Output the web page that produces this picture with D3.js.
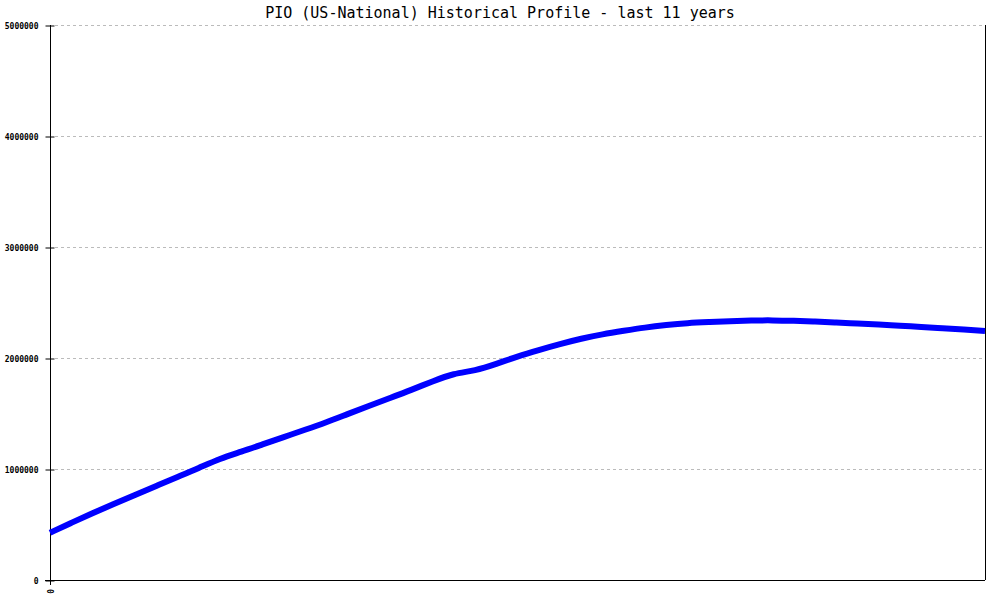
<!DOCTYPE html>
<html>
<head>
<meta charset="utf-8">
<script src="https://cdn.jsdelivr.net/npm/d3@7"></script>
<style>
  body { margin: 0; background: #fff; }
  text { font-family: "DejaVu Sans Mono", "Liberation Mono", monospace; }
</style>
</head>
<body>
<div id="chart"></div>
<script>
"use strict";

var width = 1000;
var height = 600;
var margin = { top: 25, right: 15, bottom: 20, left: 50 };

// quarterly points over the 11 years
var quarters = d3.range(45);
var population = [
  425000, 515000, 602000, 685000, 766000, 847000, 928000, 1008000, 1095000,
  1155000, 1222000, 1288000, 1353000, 1420000, 1495000, 1568000, 1640000,
  1712000, 1790000, 1862000, 1885000, 1946000, 2015000, 2072000, 2126000,
  2175000, 2214000, 2245000, 2275000, 2297000, 2315000, 2324000, 2332000,
  2338000, 2340000, 2335000, 2328000, 2320000, 2311000, 2302000, 2290000,
  2280000, 2268000, 2256000, 2243000
];
var yTicks = [0, 1000000, 2000000, 3000000, 4000000, 5000000];
var xTickLabels = ["0"];

var svg = d3.select("#chart").append("svg")
  .attr("width", width).attr("height", height);

var x = d3.scaleLinear().domain([0, quarters.length - 1])
  .range([margin.left, width - margin.right]);
var y = d3.scaleLinear().domain([0, 5000000])
  .range([height - margin.bottom, margin.top]);

// grid lines
svg.append("g").selectAll("line").data(yTicks.slice(1)).enter().append("line")
  .attr("x1", margin.left + 5).attr("x2", width - margin.right)
  .attr("y1", function (d) { return y(d) + 0.5; })
  .attr("y2", function (d) { return y(d) + 0.5; })
  .attr("stroke", "#bbb").attr("stroke-dasharray", "3 3");

// left axis
var yAxis = d3.axisLeft(y).tickValues(yTicks).tickSize(5).tickFormat(d3.format("d"));
var gy = svg.append("g").attr("transform", "translate(" + (margin.left + 0.5) + ",0.5)").call(yAxis);
gy.select(".domain").remove();
gy.selectAll(".tick line").attr("x2", -5).attr("x1", 4).attr("stroke", "#000");
gy.selectAll(".tick text").attr("x", -12).attr("font-size", 8).attr("font-weight", "bold")
  .attr("font-family", "DejaVu Sans Mono, monospace");

// axis frame
svg.append("line").attr("x1", margin.left + 0.5).attr("x2", margin.left + 0.5)
  .attr("y1", margin.top).attr("y2", height - margin.bottom + 5).attr("stroke", "#000");
svg.append("line").attr("x1", width - margin.right + 0.5).attr("x2", width - margin.right + 0.5)
  .attr("y1", margin.top).attr("y2", height - margin.bottom).attr("stroke", "#000");
svg.append("line").attr("x1", margin.left - 5).attr("x2", width - margin.right)
  .attr("y1", height - margin.bottom + 0.5).attr("y2", height - margin.bottom + 0.5).attr("stroke", "#000");

// x label
svg.append("g").selectAll("text").data(xTickLabels).enter().append("text")
  .attr("transform", "translate(" + (x(0) - 3) + "," + (height - margin.bottom + 9) + ") rotate(90)")
  .attr("text-anchor", "start").attr("font-size", 8).attr("font-weight", "bold")
  .text(function (d) { return d; });

// series line
var line = d3.line()
  .x(function (d, i) { return x(quarters[i]); })
  .y(function (d) { return y(d); })
  .curve(d3.curveBasis);

svg.append("path").datum(population)
  .attr("d", line).attr("fill", "none")
  .attr("stroke", "#0000ff").attr("stroke-width", 6);

// title
svg.append("text").attr("x", width / 2).attr("y", 18)
  .attr("text-anchor", "middle").attr("font-size", 15)
  .text("PIO (US-National) Historical Profile - last 11 years");
</script>
</body>
</html>
